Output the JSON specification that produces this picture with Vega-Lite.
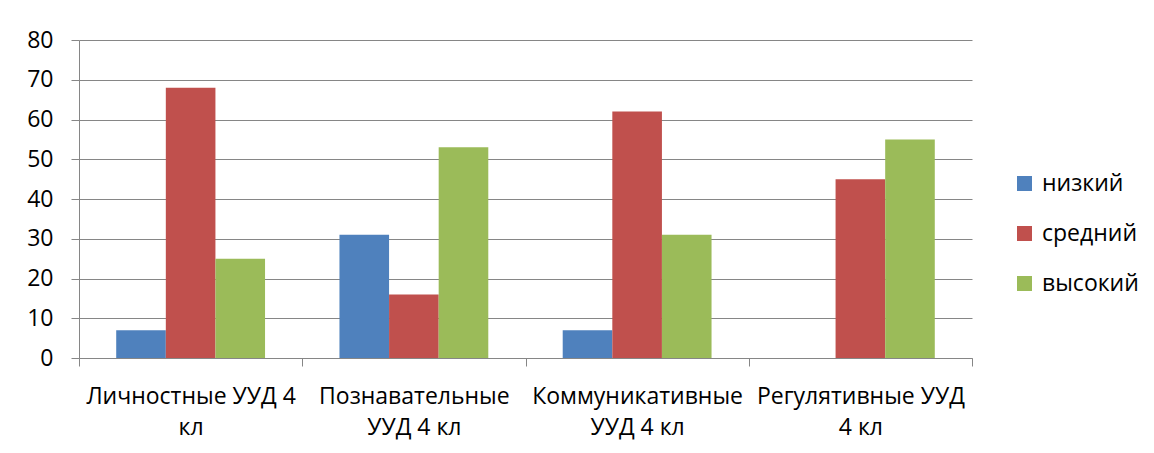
{
  "$schema": "https://vega.github.io/schema/vega-lite/v6.json",
  "width": 893,
  "height": 318,
  "autosize": {"type": "none"},
  "padding": {"left": 79, "top": 40, "right": 182, "bottom": 95},
  "background": "white",
  "config": {
    "view": {"stroke": null},
    "font": "Open Sans"
  },
  "data": {
    "values": [
      {"cat": "Личностные УУД 4 кл", "level": "низкий", "value": 7},
      {"cat": "Личностные УУД 4 кл", "level": "средний", "value": 68},
      {"cat": "Личностные УУД 4 кл", "level": "высокий", "value": 25},
      {"cat": "Познавательные УУД 4 кл", "level": "низкий", "value": 31},
      {"cat": "Познавательные УУД 4 кл", "level": "средний", "value": 16},
      {"cat": "Познавательные УУД 4 кл", "level": "высокий", "value": 53},
      {"cat": "Коммуникативные УУД 4 кл", "level": "низкий", "value": 7},
      {"cat": "Коммуникативные УУД 4 кл", "level": "средний", "value": 62},
      {"cat": "Коммуникативные УУД 4 кл", "level": "высокий", "value": 31},
      {"cat": "Регулятивные УУД 4 кл", "level": "низкий", "value": 0},
      {"cat": "Регулятивные УУД 4 кл", "level": "средний", "value": 45},
      {"cat": "Регулятивные УУД 4 кл", "level": "высокий", "value": 55}
    ]
  },
  "mark": {"type": "bar"},
  "encoding": {
    "x": {
      "field": "cat",
      "type": "nominal",
      "sort": null,
      "scale": {"paddingInner": 0, "paddingOuter": 0},
      "axis": {
        "title": null,
        "labelAngle": 0,
        "tickBand": "extent",
        "tickSize": 8,
        "tickColor": "#868686",
        "domainColor": "#868686",
        "labelFontSize": 23,
        "labelColor": "#000000",
        "labelPadding": 19,
        "labelLineHeight": 31,
        "labelBaseline": "top",
        "labelLimit": 0,
        "labelExpr": "datum.label == 'Личностные УУД 4 кл' ? ['Личностные УУД 4', 'кл'] : datum.label == 'Познавательные УУД 4 кл' ? ['Познавательные', 'УУД 4 кл'] : datum.label == 'Коммуникативные УУД 4 кл' ? ['Коммуникативные', 'УУД 4 кл'] : datum.label == 'Регулятивные УУД 4 кл' ? ['Регулятивные УУД', '4 кл'] : ''"
      }
    },
    "xOffset": {
      "field": "level",
      "type": "nominal",
      "sort": ["низкий", "средний", "высокий"],
      "scale": {"paddingInner": 0, "paddingOuter": 0.75}
    },
    "y": {
      "field": "value",
      "type": "quantitative",
      "scale": {"domain": [0, 80], "nice": false},
      "axis": {
        "title": null,
        "values": [0, 10, 20, 30, 40, 50, 60, 70, 80],
        "grid": true,
        "gridColor": "#868686",
        "gridWidth": 1,
        "tickSize": 8,
        "tickColor": "#868686",
        "domainColor": "#868686",
        "labelFontSize": 23,
        "labelColor": "#000000",
        "labelPadding": 18
      }
    },
    "color": {
      "field": "level",
      "type": "nominal",
      "sort": ["низкий", "средний", "высокий"],
      "scale": {
        "domain": ["низкий", "средний", "высокий"],
        "range": ["#4F81BD", "#C0504D", "#9BBB59"]
      },
      "legend": {
        "title": null,
        "orient": "none",
        "legendX": 934,
        "legendY": 132,
        "symbolType": "square",
        "symbolSize": 225,
        "symbolStrokeWidth": 0,
        "labelFontSize": 23,
        "labelColor": "#000000",
        "labelOffset": 6,
        "rowPadding": 26
      }
    }
  }
}
